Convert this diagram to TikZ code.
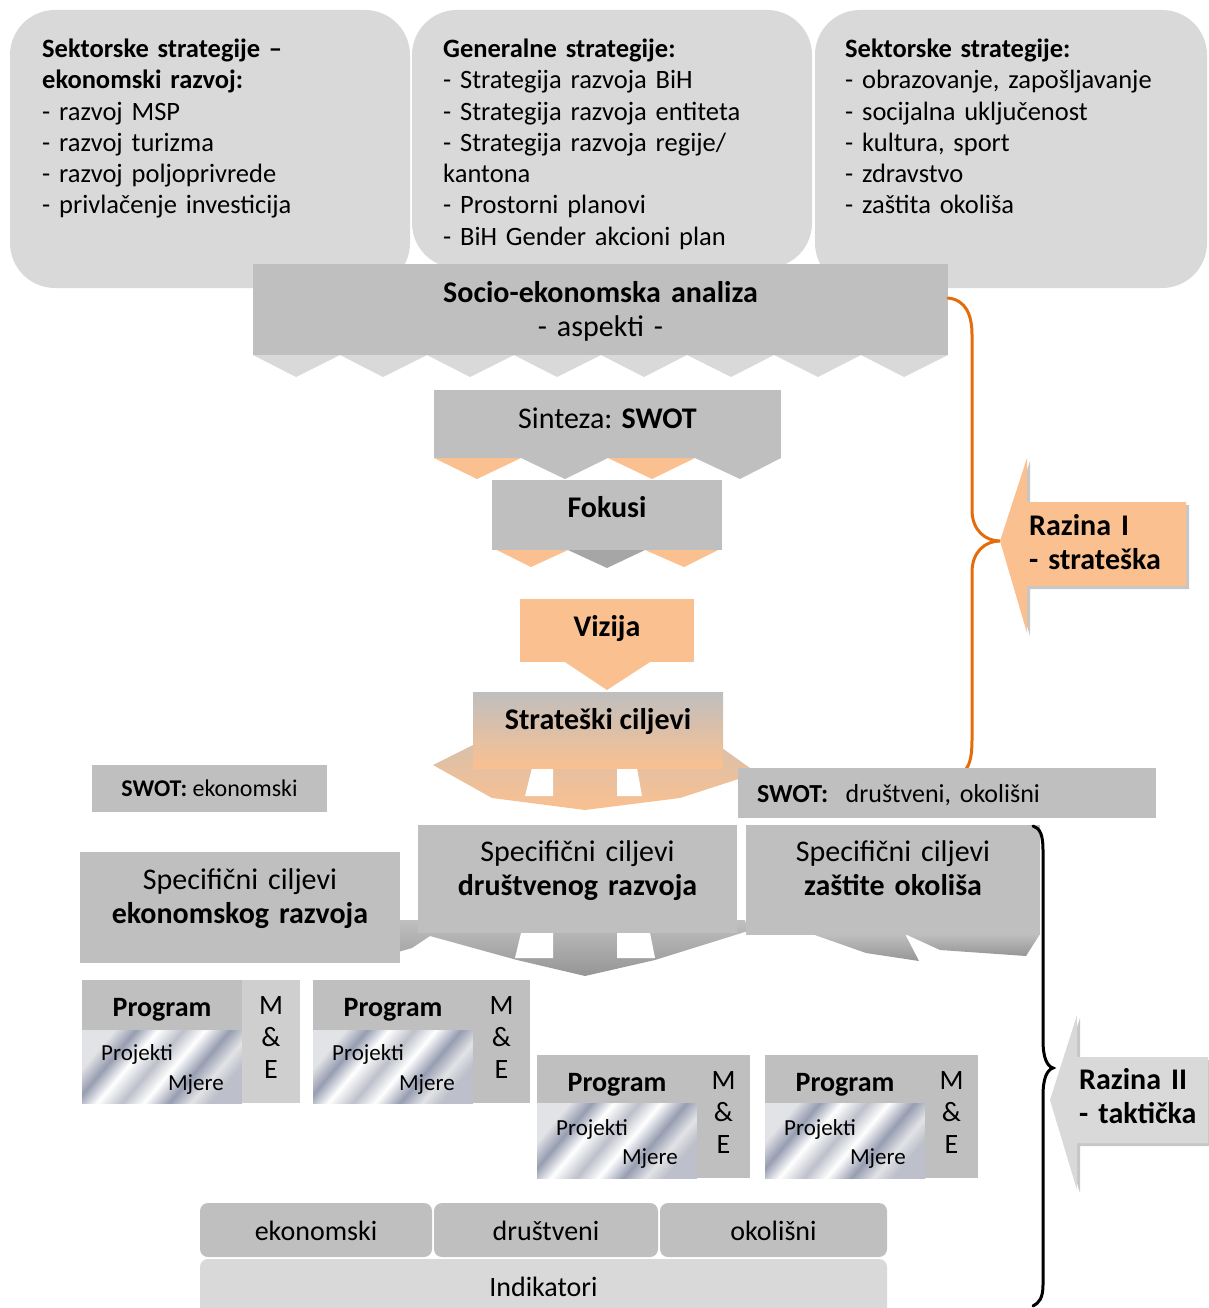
\documentclass[tikz,border=0pt]{standalone}
\usepackage{tikz}
\usepackage{xcolor}
\usepackage{fontspec}
\setmainfont{Carlito}
\usetikzlibrary{positioning}
\definecolor{lgray}{HTML}{D9D9D9}
\definecolor{mgray}{HTML}{BFBFBF}
\definecolor{dgray}{HTML}{A6A6A6}
\definecolor{orng}{HTML}{FAC090}
\definecolor{brorange}{HTML}{E46C0A}
\definecolor{mtlight}{HTML}{E2E3E6}
\definecolor{mtblue}{HTML}{979DB1}
\definecolor{mtgray}{HTML}{BDC0CA}
\pgfdeclarehorizontalshading{metal}{100bp}{color(0bp)=(mtlight); color(25bp)=(mtlight); color(32bp)=(mtblue); color(39bp)=(white); color(47bp)=(mtgray); color(54bp)=(white); color(62bp)=(mtblue); color(69bp)=(mtlight); color(75bp)=(mtgray); color(100bp)=(mtgray)}
\tikzstyle{topbox} = [rectangle, rounded corners=45pt, fill=lgray, inner sep=0, outer sep=0, anchor=north west]
\tikzstyle{listtext} = [text width=360pt, align=left, inner sep=0, anchor=base west, font=\fontsize{26.5}{31.3}\selectfont]
\tikzstyle{process} = [rectangle, fill=mgray, inner sep=0, outer sep=0, anchor=north west, align=center, text height=20pt, font=\fontsize{30}{34}\selectfont]
\tikzstyle{rtext} = [text width=170pt, align=left, inner sep=0, anchor=base west, font=\bfseries\fontsize{30}{34}\selectfont]
\tikzstyle{proghead} = [rectangle, fill=mgray, inner sep=0, outer sep=0, anchor=north west, minimum width=160pt, text height=22pt, text depth=0pt, font=\bfseries\fontsize{28}{32}\selectfont]
\tikzstyle{progbody} = [rectangle, shading=metal, shading angle=-40, inner sep=0, outer sep=0, minimum width=160pt]
\tikzstyle{mecol} = [rectangle, fill=mgray, inner sep=0, outer sep=0, anchor=north west, minimum height=123pt, text width=40pt, align=center, text height=19pt, text depth=74pt, font=\fontsize{28}{32}\selectfont]
\tikzstyle{smalltext} = [inner sep=0, font=\fontsize{23}{27}\selectfont]
\tikzstyle{indbox} = [rectangle, rounded corners=8pt, fill=mgray, inner sep=0, outer sep=0, anchor=north west, minimum height=54pt, text height=20pt, text depth=0pt, font=\fontsize{28}{32}\selectfont]
\tikzstyle{fanorange} = [top color=orng!45!mgray, bottom color=orng]
\tikzstyle{fangray} = [top color=mgray, bottom color=dgray!90!black]
\tikzstyle{brace} = [line width=3pt, line cap=round]

\begin{document}
\begin{tikzpicture}[x=1pt, y=-1pt]
    \useasboundingbox (0,0) rectangle (1208,1308);
    \node (ekoStrat) [topbox, minimum width=400pt, minimum height=278pt] at (10,10) {};
    \node (genStrat) [topbox, minimum width=400pt, minimum height=258pt] at (412,10) {};
    \node (sekStrat) [topbox, minimum width=392pt, minimum height=278pt] at (815,10) {};
    \node (ekoStratTxt) [listtext] at (42,57.5) {\textbf{Sektorske strategije –}\\\textbf{ekonomski razvoj:}\\- razvoj MSP\\- razvoj turizma\\- razvoj poljoprivrede\\- privlačenje investicija};
    \node (genStratTxt) [listtext] at (443,57.5) {\textbf{Generalne strategije:}\\- Strategija razvoja BiH\\- Strategija razvoja entiteta\\- Strategija razvoja regije/\\kantona\\- Prostorni planovi\\- BiH Gender akcioni plan};
    \node (sekStratTxt) [listtext] at (845,57.5) {\textbf{Sektorske strategije:}\\- obrazovanje, zapošljavanje\\- socijalna uključenost\\- kultura, sport\\- zdravstvo\\- zaštita okoliša};

    \fill[lgray] (253,355) -- (296,377) -- (340,355) -- (383,377) -- (427,355) -- (470,377) -- (514,355) -- (557,377) -- (601,355) -- (644,377) -- (687,355) -- (731,377) -- (774,355) -- (818,377) -- (861,355) -- (904,377) -- (948,355) -- cycle;
    \node (socio) [process, minimum width=695pt, minimum height=91pt, text width=690pt, text depth=33.6pt] at (253,264) {\textbf{Socio-ekonomska analiza}\\- aspekti -};
    \draw[brace, brorange] (948,298) .. controls (966,300) and (972,315) .. (972,335) -- (972,510) .. controls (972,530) and (985,541) .. (1000,541) .. controls (985,541) and (972,552) .. (972,572) -- (972,740) .. controls (972,755) and (970,764) .. (966,769);

    \node (swot) [process, minimum width=347pt, minimum height=68pt, text depth=10.8pt] at (434,390) {Sinteza: \textbf{SWOT}};
    \fill[orng] (swot.south west) -- ++(87,0) -- ++(-44,21) -- cycle;
    \fill[mgray] (521,458) -- ++(87,0) -- ++(-43,21) -- cycle;
    \fill[orng] (608,458) -- ++(87,0) -- ++(-43,21) -- cycle;
    \fill[mgray] (695,458) -- (swot.south east) -- ++(-41,21) -- cycle;

    \node (fokusi) [process, minimum width=230pt, minimum height=70pt, text depth=14.8pt] at (492,480) {\textbf{Fokusi}};
    \fill[orng] (497,550) -- (568,550) -- (531,567) -- cycle;
    \fill[dgray] (568,550) -- (645,550) -- (607,568) -- cycle;
    \fill[orng] (645,550) -- (718,550) -- (684,567) -- cycle;

    \node (vizija) [process, fill=orng, minimum width=174pt, minimum height=63pt, text depth=7.8pt] at (520,599) {\textbf{Vizija}};
    \fill[orng] (565,662) -- (650,662) -- (vizija.south |- 0,690) -- cycle;

    \shade[fanorange] (473,745) -- (433,765) -- (492,798) -- (585,810) -- (680,798) -- (757,773) -- (722,748) -- cycle;
    \fill[white] (532,768) -- (553,768) -- (553,796) -- (525,796) -- cycle;
    \fill[white] (617,768) -- (637,768) -- (642,796) -- (617,796) -- cycle;
    \node (ciljevi) [process, top color=mgray, bottom color=orng, minimum width=250pt, minimum height=76pt, text depth=20.8pt] at (473,692) {\textbf{Strateški ciljevi}};

    \node (swotEko) [process, font=\fontsize{24}{28}\selectfont, minimum width=235pt, minimum height=47pt, text height=17pt, text depth=0.6pt] at (92,765) {\textbf{SWOT:} ekonomski};
    \node (swotDru) [process, font=\fontsize{26}{30}\selectfont, minimum width=418pt, minimum height=50pt, text width=380pt, align=left, text height=18.6pt, text depth=0pt] at (738,768) {\textbf{SWOT:}\ \ društveni, okolišni};

    \fill[black!22] (1003,544) -- (1030,461) -- (1030,505) -- (1189,505) -- (1189,589) -- (1030,589) -- (1030,636) -- cycle;
    \fill[orng] (1000,541) -- (1027,458) -- (1027,502) -- (1186,502) -- (1186,586) -- (1027,586) -- (1027,633) -- cycle;
    \node (razina1) [rtext] at (1029,535.6) {Razina I\\- strateška};

    \shade[fangray] (398,952) -- (412,948) -- (430,936) -- (517,960) -- (585,976) -- (655,960) -- (748,931) -- (745,920) -- (400,920) -- cycle;
    \fill[white] (521,933) -- (553,933) -- (553,958) -- (515,958) -- cycle;
    \fill[white] (617,933) -- (650,933) -- (655,958) -- (617,958) -- cycle;
    \shade[fangray] (812,934) -- (866,953) -- (919,961) -- (905,934) -- cycle;
    \shade[fangray] (905,934) -- (940,950) -- (1026,956) -- (1040,934) -- cycle;
    \node (ciljEko) [process, minimum width=320pt, minimum height=111pt, text width=315pt, text depth=55.8pt] at (80,852) {Specifični ciljevi\\\textbf{ekonomskog razvoja}};
    \node (ciljDru) [process, minimum width=319pt, minimum height=108pt, text width=315pt, text depth=54.8pt] at (418,825) {Specifični ciljevi\\\textbf{društvenog razvoja}};
    \node (ciljOko) [process, minimum width=294pt, minimum height=110pt, text width=290pt, text depth=56.8pt] at (746,825) {Specifični ciljevi\\\textbf{zaštite okoliša}};

    \node (prog1) [proghead, minimum height=50pt] at (82,980) {Program};
    \node (body1) [progbody, minimum height=73pt, below=0pt of prog1] {};
    \node (proj1) [smalltext, anchor=base west] at ([xshift=19pt,yshift=-30.4pt]body1.north west) {Projekti};
    \node (mjere1) [smalltext, anchor=base east] at ([xshift=-18pt,yshift=-60.4pt]body1.north east) {Mjere};
    \node (me1) [mecol, fill=mgray!75!white, minimum width=58pt] at (prog1.north east) {M\\\&\\E};

    \node (prog2) [proghead, minimum height=50pt] at (313,980) {Program};
    \node (body2) [progbody, minimum height=73pt, below=0pt of prog2] {};
    \node (proj2) [smalltext, anchor=base west] at ([xshift=19pt,yshift=-30.4pt]body2.north west) {Projekti};
    \node (mjere2) [smalltext, anchor=base east] at ([xshift=-18pt,yshift=-60.4pt]body2.north east) {Mjere};
    \node (me2) [mecol, minimum width=57pt] at (prog2.north east) {M\\\&\\E};

    \node (prog3) [proghead, minimum height=48pt, text height=24pt] at (537,1055) {Program};
    \node (body3) [progbody, minimum height=75pt, below=0pt of prog3] {};
    \node (proj3) [smalltext, anchor=base west] at ([xshift=19pt,yshift=-32.4pt]body3.north west) {Projekti};
    \node (mjere3) [smalltext, anchor=base east] at ([xshift=-19pt,yshift=-61.4pt]body3.north east) {Mjere};
    \node (me3) [mecol, minimum width=53pt] at (prog3.north east) {M\\\&\\E};

    \node (prog4) [proghead, minimum height=48pt, text height=24pt] at (765,1055) {Program};
    \node (body4) [progbody, minimum height=75pt, below=0pt of prog4] {};
    \node (proj4) [smalltext, anchor=base west] at ([xshift=19pt,yshift=-32.4pt]body4.north west) {Projekti};
    \node (mjere4) [smalltext, anchor=base east] at ([xshift=-19pt,yshift=-61.4pt]body4.north east) {Mjere};
    \node (me4) [mecol, minimum width=53pt] at (prog4.north east) {M\\\&\\E};

    \node (indEko) [indbox, minimum width=232pt] at (200,1203) {ekonomski};
    \node (indDru) [indbox, minimum width=224pt, right=2pt of indEko] {društveni};
    \node (indOko) [indbox, minimum width=227pt, right=2pt of indDru] {okolišni};
    \node (indikatori) [indbox, fill=lgray, minimum width=687pt, minimum height=60pt, text depth=6pt] at (200,1259) {Indikatori};

    \draw[brace, black] (1033,826) .. controls (1040,828) and (1043,835) .. (1043,850) -- (1043,1040) .. controls (1043,1058) and (1047,1066) .. (1053,1068) .. controls (1047,1070) and (1043,1078) .. (1043,1096) -- (1043,1285) .. controls (1043,1298) and (1039,1303) .. (1033,1306);
    \fill[black!22] (1053,1103) -- (1080,1018) -- (1080,1060) -- (1211,1060) -- (1211,1146) -- (1080,1146) -- (1080,1193) -- cycle;
    \fill[lgray] (1050,1100) -- (1077,1015) -- (1077,1057) -- (1208,1057) -- (1208,1143) -- (1077,1143) -- (1077,1190) -- cycle;
    \node (razina2) [rtext] at (1079,1089.6) {Razina II\\- taktička};
\end{tikzpicture}
\end{document}
